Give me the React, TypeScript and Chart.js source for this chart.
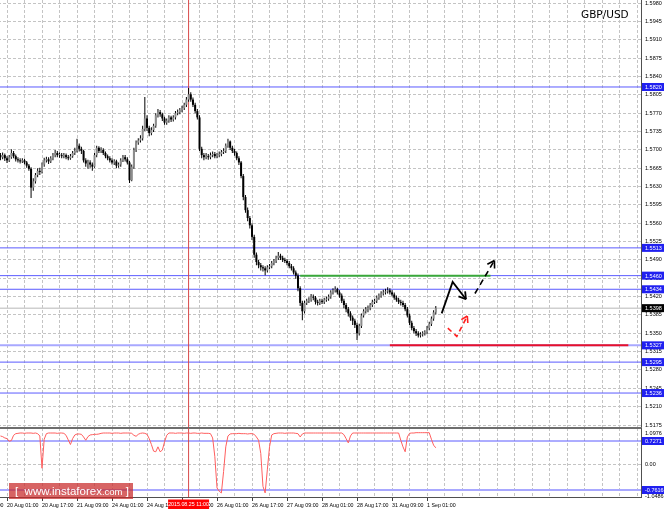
import React, { useEffect, useRef } from 'react';
import { Chart, registerables } from 'chart.js';

Chart.register(...registerables);

// ---------- DATA ----------
const firstOpen = 1.5690;
const closes = [
  1.5686, 1.5690, 1.5684, 1.5680, 1.5686, 1.5694, 1.5688, 1.5682, 1.5680, 1.5678,
  1.5680, 1.5676, 1.5670, 1.5664, 1.5628, 1.5640, 1.5652, 1.5660, 1.5658, 1.5672,
  1.5680, 1.5682, 1.5678, 1.5684, 1.5690, 1.5694, 1.5690, 1.5690, 1.5688, 1.5690,
  1.5686, 1.5684, 1.5688, 1.5694, 1.5698, 1.5708, 1.5702, 1.5698, 1.5680, 1.5674,
  1.5676, 1.5672, 1.5668, 1.5690, 1.5704, 1.5698, 1.5700, 1.5694, 1.5688, 1.5684,
  1.5680, 1.5676, 1.5678, 1.5670, 1.5672, 1.5680, 1.5686, 1.5682, 1.5676, 1.5642,
  1.5668, 1.5700, 1.5714, 1.5718, 1.5722, 1.5740, 1.5760, 1.5742, 1.5732, 1.5738,
  1.5746, 1.5766, 1.5772, 1.5768, 1.5760, 1.5752, 1.5756, 1.5762, 1.5758, 1.5762,
  1.5770, 1.5772, 1.5776, 1.5780, 1.5786, 1.5796, 1.5806, 1.5796, 1.5786, 1.5774,
  1.5762, 1.5702, 1.5690, 1.5686, 1.5688, 1.5686, 1.5690, 1.5692, 1.5688, 1.5690,
  1.5692, 1.5696, 1.5698, 1.5708, 1.5716, 1.5704, 1.5698, 1.5694, 1.5684, 1.5676,
  1.5650, 1.5610, 1.5585, 1.5570, 1.5556, 1.5534, 1.5500, 1.5486, 1.5480, 1.5476,
  1.5474, 1.5470, 1.5476, 1.5478, 1.5484, 1.5488, 1.5494, 1.5498, 1.5494, 1.5490,
  1.5488, 1.5484, 1.5478, 1.5474, 1.5466, 1.5460, 1.5436, 1.5408, 1.5392, 1.5408,
  1.5412, 1.5414, 1.5420, 1.5418, 1.5410, 1.5408, 1.5412, 1.5410, 1.5414, 1.5416,
  1.5420, 1.5428, 1.5432, 1.5434, 1.5428, 1.5422, 1.5412, 1.5404, 1.5396, 1.5388,
  1.5380, 1.5374, 1.5366, 1.5350, 1.5364, 1.5384, 1.5392, 1.5396, 1.5398, 1.5404,
  1.5410, 1.5412, 1.5418, 1.5422, 1.5426, 1.5428, 1.5430, 1.5432, 1.5428, 1.5424,
  1.5418, 1.5414, 1.5410, 1.5408, 1.5404, 1.5396, 1.5384, 1.5370, 1.5360, 1.5354,
  1.5350, 1.5346, 1.5348, 1.5350, 1.5352, 1.5360, 1.5368, 1.5378, 1.5390, 1.5398,
];
const highs = [
  1.5694, 1.5695, 1.5693, 1.5688, 1.5690, 1.5701, 1.5698, 1.5691, 1.5686, 1.5684,
  1.5684, 1.5683, 1.5679, 1.5673, 1.5667, 1.5646, 1.5656, 1.5665, 1.5666, 1.5676,
  1.5685, 1.5687, 1.5686, 1.5688, 1.5694, 1.5700, 1.5698, 1.5695, 1.5694, 1.5694,
  1.5693, 1.5690, 1.5692, 1.5698, 1.5704, 1.5721, 1.5712, 1.5706, 1.5700, 1.5684,
  1.5681, 1.5680, 1.5676, 1.5694, 1.5708, 1.5707, 1.5705, 1.5703, 1.5697, 1.5691,
  1.5688, 1.5684, 1.5682, 1.5681, 1.5676, 1.5684, 1.5690, 1.5690, 1.5686, 1.5679,
  1.5672, 1.5704, 1.5718, 1.5722, 1.5728, 1.5746, 1.5801, 1.5766, 1.5746, 1.5743,
  1.5750, 1.5770, 1.5778, 1.5776, 1.5771, 1.5763, 1.5760, 1.5766, 1.5765, 1.5766,
  1.5774, 1.5777, 1.5780, 1.5784, 1.5790, 1.5801, 1.5818, 1.5810, 1.5800, 1.5790,
  1.5778, 1.5766, 1.5706, 1.5694, 1.5694, 1.5692, 1.5695, 1.5697, 1.5696, 1.5694,
  1.5697, 1.5700, 1.5703, 1.5712, 1.5721, 1.5718, 1.5708, 1.5702, 1.5697, 1.5688,
  1.5679, 1.5654, 1.5614, 1.5590, 1.5574, 1.5560, 1.5538, 1.5504, 1.5490, 1.5484,
  1.5480, 1.5478, 1.5480, 1.5482, 1.5488, 1.5492, 1.5498, 1.5505, 1.5502, 1.5498,
  1.5494, 1.5492, 1.5488, 1.5482, 1.5478, 1.5470, 1.5464, 1.5440, 1.5412, 1.5412,
  1.5416, 1.5419, 1.5425, 1.5424, 1.5421, 1.5414, 1.5416, 1.5416, 1.5418, 1.5420,
  1.5424, 1.5432, 1.5436, 1.5440, 1.5437, 1.5432, 1.5426, 1.5416, 1.5408, 1.5400,
  1.5392, 1.5384, 1.5378, 1.5370, 1.5368, 1.5388, 1.5396, 1.5400, 1.5403, 1.5408,
  1.5414, 1.5416, 1.5422, 1.5426, 1.5430, 1.5433, 1.5435, 1.5438, 1.5436, 1.5432,
  1.5428, 1.5422, 1.5418, 1.5414, 1.5412, 1.5408, 1.5400, 1.5388, 1.5374, 1.5364,
  1.5358, 1.5354, 1.5352, 1.5354, 1.5356, 1.5364, 1.5372, 1.5382, 1.5394, 1.5402,
];
const lows = [
  1.5680, 1.5682, 1.5679, 1.5675, 1.5677, 1.5683, 1.5684, 1.5678, 1.5676, 1.5674,
  1.5675, 1.5672, 1.5666, 1.5660, 1.5608, 1.5622, 1.5636, 1.5648, 1.5652, 1.5655,
  1.5668, 1.5676, 1.5673, 1.5675, 1.5680, 1.5686, 1.5686, 1.5685, 1.5684, 1.5684,
  1.5682, 1.5680, 1.5681, 1.5685, 1.5690, 1.5695, 1.5697, 1.5692, 1.5676, 1.5668,
  1.5664, 1.5666, 1.5660, 1.5666, 1.5686, 1.5694, 1.5694, 1.5690, 1.5684, 1.5680,
  1.5676, 1.5672, 1.5671, 1.5665, 1.5666, 1.5668, 1.5677, 1.5678, 1.5672, 1.5637,
  1.5640, 1.5664, 1.5696, 1.5710, 1.5714, 1.5718, 1.5736, 1.5736, 1.5726, 1.5728,
  1.5734, 1.5742, 1.5762, 1.5763, 1.5755, 1.5748, 1.5748, 1.5752, 1.5753, 1.5754,
  1.5758, 1.5766, 1.5768, 1.5772, 1.5776, 1.5782, 1.5792, 1.5792, 1.5782, 1.5770,
  1.5758, 1.5698, 1.5684, 1.5680, 1.5682, 1.5681, 1.5682, 1.5686, 1.5684, 1.5684,
  1.5686, 1.5688, 1.5692, 1.5694, 1.5704, 1.5700, 1.5694, 1.5689, 1.5680, 1.5671,
  1.5646, 1.5604, 1.5580, 1.5564, 1.5550, 1.5528, 1.5494, 1.5480, 1.5474, 1.5470,
  1.5468, 1.5461, 1.5466, 1.5472, 1.5474, 1.5480, 1.5484, 1.5490, 1.5490, 1.5486,
  1.5484, 1.5480, 1.5474, 1.5470, 1.5462, 1.5454, 1.5430, 1.5402, 1.5375, 1.5388,
  1.5404, 1.5408, 1.5410, 1.5413, 1.5405, 1.5403, 1.5404, 1.5406, 1.5406, 1.5410,
  1.5412, 1.5416, 1.5424, 1.5428, 1.5424, 1.5418, 1.5408, 1.5398, 1.5390, 1.5382,
  1.5374, 1.5366, 1.5360, 1.5337, 1.5346, 1.5360, 1.5380, 1.5388, 1.5390, 1.5394,
  1.5400, 1.5406, 1.5408, 1.5414, 1.5418, 1.5422, 1.5424, 1.5426, 1.5424, 1.5420,
  1.5414, 1.5410, 1.5406, 1.5403, 1.5400, 1.5392, 1.5380, 1.5366, 1.5356, 1.5350,
  1.5345, 1.5342, 1.5342, 1.5344, 1.5346, 1.5348, 1.5356, 1.5364, 1.5374, 1.5386,
];
const indicator = [
  0.88, 0.86, 0.82, 0.80, 0.72, 0.74, 0.90, 0.95, 0.96, 0.97,
  0.97, 0.96, 0.97, 0.97, 0.97, 0.96, 0.97, 0.95, 0.88, -0.10,
  0.78, 0.95, 0.97, 0.97, 0.97, 0.97, 0.96, 0.97, 0.97, 0.96,
  0.90, 0.76, 0.62, 0.80, 0.91, 0.94, 0.94, 0.93, 0.85, 0.75,
  0.86, 0.91, 0.92, 0.93, 0.93, 0.94, 0.96, 0.97, 0.97, 0.97,
  0.97, 0.96, 0.97, 0.97, 0.97, 0.96, 0.97, 0.97, 0.97, 0.97,
  0.96, 0.90, 0.87, 0.93, 0.96, 0.97, 0.96, 0.93, 0.80, 0.62,
  0.42, 0.40, 0.55, 0.40, 0.45, 0.70, 0.90, 0.97, 0.97, 0.97,
  0.96, 0.97, 0.97, 0.97, 0.96, 0.97, 0.97, 0.96, 0.97, 0.97,
  0.96, 0.96, 0.97, 0.96, 0.96, 0.96, 0.95, 0.82, 0.25, -0.70,
  -0.80, -0.85, -0.20, 0.55, 0.88, 0.94, 0.95, 0.95, 0.95, 0.96,
  0.95, 0.95, 0.95, 0.94, 0.95, 0.95, 0.93, 0.85, 0.75, 0.35,
  -0.65, -0.85, -0.15, 0.55, 0.91, 0.95, 0.96, 0.97, 0.97, 0.97,
  0.96, 0.97, 0.97, 0.97, 0.97, 0.96, 0.95, 0.85, 0.94, 0.97,
  0.97, 0.97, 0.97, 0.97, 0.97, 0.97, 0.97, 0.97, 0.97, 0.97,
  0.97, 0.97, 0.97, 0.97, 0.97, 0.97, 0.97, 0.92, 0.80, 0.67,
  0.88, 0.97, 0.97, 0.97, 0.97, 0.97, 0.97, 0.97, 0.97, 0.97,
  0.97, 0.97, 0.97, 0.97, 0.97, 0.97, 0.97, 0.97, 0.97, 0.97,
  0.97, 0.97, 0.97, 0.75, 0.55, 0.40, 0.85, 0.96, 0.97, 0.97,
  0.98, 0.98, 0.98, 0.98, 0.98, 0.98, 0.98, 0.78, 0.60, 0.52,
];

const dateLabels = [
  '19 Aug 09:00', '20 Aug 01:00', '20 Aug 17:00', '21 Aug 09:00', '24 Aug 01:00',
  '24 Aug 17:00', '25 Aug 09:00', '26 Aug 01:00', '26 Aug 17:00', '27 Aug 09:00',
  '28 Aug 01:00', '28 Aug 17:00', '31 Aug 09:00', '1 Sep 01:00',
];
const dateLabelBars = [-13, 3, 19, 35, 51, 67, 83, 99, 115, 131, 147, 163, 179, 195];

const priceTicks = [
  1.5980, 1.5945, 1.5910, 1.5875, 1.5840, 1.5805, 1.5770, 1.5735, 1.5700, 1.5665,
  1.5630, 1.5595, 1.5560, 1.5525, 1.5490, 1.5455, 1.5420, 1.5385, 1.5350, 1.5315,
  1.5280, 1.5245, 1.5210, 1.5175,
];
const blueLevels = [1.5820, 1.5513, 1.5460, 1.5434, 1.5295, 1.5236];
const paleLevels = [1.5327];
const bidPrice = 1.5398;
const greenLevel = 1.5460;
const greenBars = [137, 224];
const redLevel = 1.5327;
const redBars = [178, 287];
const markerBar = 86;
const markerText = '2015.08.25 11:00';

const indBlueLevel = 0.7271;
const indPaleLevel = -0.7616;
const indTickText = ['1.0976', '0.00', '-1.0486'];
const indTickAt = [0.97, 0, -0.944];

const arrowSolid = [[201.7, 1.5388], [206.7, 1.5448], [212.8, 1.5415]];
const arrowDashed = [[216.9, 1.5426], [225.8, 1.5489]];
const arrowRed = [[204.5, 1.5360], [208.6, 1.5344], [213.4, 1.5383]];

// ---------- LAYOUT / STYLE ----------
const X_MIN = -14.83;
const X_MAX = 292.8;
const P_MIN = 1.51712;
const P_MAX = 1.5986;
const I_MIN = -0.974;
const I_MAX = 1.122;
const SHIFT = 32;
const CW = 696;
const AXIS_W = 23;
const MAIN_H = 427;
const IND_TOP = 427;
const IND_H = 84;
const XAXIS_H = 14;

const FAMILY = '"Liberation Sans", Arial, sans-serif';
const AXFONT = { family: FAMILY, size: 5.5 };
const XFONT = { family: FAMILY, size: 5.3 };
const GRID = '#c4c4c4';
const AXIS_LINE = '#505050';
const BLUE = '#5a5aff';
const PALE = '#a8a8ff';
const BOX_BLUE = '#2020f0';
const MARKER = '#d84a4a';
const BULL = '#8c8c8c';
const BEAR = '#000000';

Chart.defaults.font.family = FAMILY;

const gridBars: number[] = [];
for (let b = dateLabelBars[0]; b <= X_MAX; b += 8) gridBars.push(b);

const opens = closes.map((c, i) => (i === 0 ? firstOpen : closes[i - 1]));

const labelFor = (v: number) => {
  const k = dateLabelBars.indexOf(v);
  return k >= 0 ? dateLabels[k] : '';
};

const hLine = (level: number, from: number, to: number, color: string, width: number, order: number) => ({
  type: 'line',
  data: [{ x: from, y: level }, { x: to, y: level }],
  borderColor: color,
  borderWidth: width,
  pointRadius: 0,
  fill: false,
  order,
  xAxisID: 'x',
  yAxisID: 'y',
});

const vLine = (bar: number, lo: number, hi: number, order: number) => ({
  type: 'line',
  data: [{ x: bar, y: lo }, { x: bar, y: hi }],
  borderColor: MARKER,
  borderWidth: 1,
  pointRadius: 0,
  fill: false,
  order,
  xAxisID: 'x',
  yAxisID: 'y',
});

// ---------- PLUGINS ----------
const axisBoxes = {
  id: 'axisBoxes',
  afterDraw(chart: any, _a: any, opts: any) {
    const { ctx, chartArea, scales } = chart;
    ctx.save();
    for (const b of opts.items || []) {
      const py = scales.y.getPixelForValue(b.value);
      ctx.fillStyle = b.bg;
      ctx.fillRect(chartArea.right + 1, py - 4, chart.width - chartArea.right, 8);
      ctx.fillStyle = '#ffffff';
      ctx.font = `5.5px ${FAMILY}`;
      ctx.textAlign = 'left';
      ctx.textBaseline = 'middle';
      ctx.fillText(b.text, chartArea.right + 4, py + 0.5);
    }
    ctx.restore();
  },
};

const arrows = {
  id: 'arrows',
  afterDatasetsDraw(chart: any, _a: any, opts: any) {
    const { ctx, scales, chartArea } = chart;
    ctx.save();
    ctx.beginPath();
    ctx.rect(chartArea.left, chartArea.top, chartArea.right - chartArea.left, chartArea.bottom - chartArea.top);
    ctx.clip();
    for (const a of opts.items || []) {
      const pts = a.points.map((p: number[]) => [scales.x.getPixelForValue(p[0]), scales.y.getPixelForValue(p[1])]);
      ctx.strokeStyle = a.color;
      ctx.lineWidth = a.width;
      ctx.lineJoin = 'miter';
      ctx.setLineDash(a.dash);
      ctx.beginPath();
      pts.forEach((p: number[], k: number) => (k ? ctx.lineTo(p[0], p[1]) : ctx.moveTo(p[0], p[1])));
      ctx.stroke();
      const [x1, y1] = pts[pts.length - 2];
      const [x2, y2] = pts[pts.length - 1];
      const ang = Math.atan2(y2 - y1, x2 - x1);
      ctx.setLineDash([]);
      ctx.beginPath();
      for (const s of [-1, 1]) {
        const t = ang + Math.PI + s * 0.55;
        ctx.moveTo(x2, y2);
        ctx.lineTo(x2 + a.head * Math.cos(t), y2 + a.head * Math.sin(t));
      }
      ctx.stroke();
    }
    ctx.restore();
  },
};

const markerBox = {
  id: 'markerBox',
  afterDraw(chart: any, _a: any, opts: any) {
    const { ctx, chartArea, scales } = chart;
    const px = scales.x.getPixelForValue(opts.bar);
    ctx.save();
    ctx.fillStyle = '#ff0000';
    ctx.fillRect(px - 20.5, chartArea.bottom + 2.5, 41, 9.5);
    ctx.fillStyle = '#ffffff';
    ctx.font = `5.3px ${FAMILY}`;
    ctx.textAlign = 'center';
    ctx.textBaseline = 'middle';
    ctx.fillText(opts.text, px, chartArea.bottom + 7.5);
    ctx.restore();
  },
};

const xScaleBase = {
  type: 'linear',
  min: X_MIN,
  max: X_MAX,
  offset: false,
  afterBuildTicks: (s: any) => {
    s.ticks = gridBars.map((v) => ({ value: v }));
  },
};

function mainConfig(): any {
  return {
    type: 'bar',
    data: {
      datasets: [
        hLine(bidPrice, X_MIN, X_MAX, '#cfcfcf', 1.5, 20),
        ...blueLevels.map((l) => hLine(l, X_MIN, X_MAX, BLUE, 1, 15)),
        ...paleLevels.map((l) => hLine(l, X_MIN, X_MAX, PALE, 2, 15)),
        vLine(markerBar, P_MIN, P_MAX, 12),
        hLine(greenLevel, greenBars[0], greenBars[1], '#3aa83a', 2, 8),
        hLine(redLevel, redBars[0], redBars[1], '#e8102a', 2, 8),
        {
          type: 'bar',
          data: closes.map((c, i) => ({ x: i, y: [lows[i], highs[i]] })),
          backgroundColor: '#000000',
          barThickness: 1,
          inflateAmount: 0,
          grouped: false,
          order: 3,
          xAxisID: 'x',
          yAxisID: 'y',
        },
        {
          type: 'bar',
          data: closes.map((c, i) => ({ x: i, y: [opens[i], c] })),
          backgroundColor: closes.map((c, i) => (c >= opens[i] ? BULL : BEAR)),
          barThickness: 2,
          inflateAmount: 0,
          minBarLength: 1,
          grouped: false,
          order: 2,
          xAxisID: 'x',
          yAxisID: 'y',
        },
      ],
    },
    options: {
      animation: false,
      responsive: false,
      events: [],
      layout: { padding: 0 },
      plugins: {
        legend: { display: false },
        tooltip: { enabled: false },
        axisBoxes: {
          items: [
            ...[1.5820, 1.5513, 1.5460, 1.5434, 1.5327, 1.5295, 1.5236].map((v) => ({ value: v, text: v.toFixed(4), bg: BOX_BLUE })),
            { value: bidPrice, text: bidPrice.toFixed(4), bg: '#000000' },
          ],
        },
        arrows: {
          items: [
            { points: arrowSolid, color: '#000000', width: 1.8, dash: [], head: 8 },
            { points: arrowDashed, color: '#000000', width: 1.6, dash: [6, 4], head: 8 },
            { points: arrowRed, color: '#ff2020', width: 1.6, dash: [5, 4], head: 7 },
          ],
        },
      },
      scales: {
        x: {
          ...xScaleBase,
          position: 'bottom',
          afterFit: (s: any) => {
            s.height = 0;
            s.paddingLeft = 0;
            s.paddingRight = 0;
          },
          ticks: { display: false },
          grid: { color: GRID, drawTicks: false, offset: false, lineWidth: 1 },
          border: { display: false, dash: [3, 2] },
        },
        y: {
          type: 'linear',
          position: 'right',
          min: P_MIN,
          max: P_MAX,
          beginAtZero: false,
          afterBuildTicks: (s: any) => {
            s.ticks = priceTicks.map((v) => ({ value: v }));
          },
          afterFit: (s: any) => {
            s.width = AXIS_W;
            s.paddingTop = 0;
            s.paddingBottom = 0;
          },
          ticks: {
            font: AXFONT,
            color: '#000000',
            padding: 4,
            autoSkip: false,
            callback: (v: any) => Number(v).toFixed(4),
          },
          grid: { color: GRID, drawTicks: false, lineWidth: 1 },
          border: { display: true, color: AXIS_LINE, width: 1, dash: [3, 2] },
        },
      },
    },
    plugins: [axisBoxes, arrows],
  };
}

function indConfig(): any {
  return {
    type: 'line',
    data: {
      datasets: [
        hLine(indBlueLevel, X_MIN, X_MAX, BLUE, 1, 15),
        hLine(indPaleLevel, X_MIN, X_MAX, PALE, 2, 15),
        vLine(markerBar, I_MIN, I_MAX, 12),
        {
          type: 'line',
          data: indicator.map((v, i) => ({ x: i, y: v })),
          borderColor: '#ff5e5e',
          borderWidth: 1,
          pointRadius: 0,
          fill: false,
          tension: 0,
          order: 1,
          xAxisID: 'x',
          yAxisID: 'y',
        },
      ],
    },
    options: {
      animation: false,
      responsive: false,
      events: [],
      layout: { padding: { top: 1, left: 0, right: 0, bottom: 0 } },
      plugins: {
        legend: { display: false },
        tooltip: { enabled: false },
        axisBoxes: {
          items: [
            { value: indBlueLevel, text: indBlueLevel.toFixed(4), bg: BOX_BLUE },
            { value: indPaleLevel, text: indPaleLevel.toFixed(4), bg: BOX_BLUE },
          ],
        },
        markerBox: { bar: markerBar, text: markerText },
      },
      scales: {
        x: {
          ...xScaleBase,
          position: 'bottom',
          afterFit: (s: any) => {
            s.height = XAXIS_H;
            s.paddingLeft = 0;
            s.paddingRight = 0;
          },
          ticks: {
            display: true,
            autoSkip: false,
            maxRotation: 0,
            minRotation: 0,
            align: 'start',
            padding: 1,
            font: XFONT,
            color: '#000000',
            callback: (v: any) => labelFor(Number(v)),
          },
          grid: {
            color: GRID,
            offset: false,
            drawTicks: true,
            tickLength: 4,
            tickColor: (c: any) => (c.tick && dateLabelBars.includes(c.tick.value) ? '#404040' : 'rgba(0,0,0,0)'),
          },
          border: { display: true, color: AXIS_LINE, width: 1, dash: [3, 2] },
        },
        xTop: {
          type: 'linear',
          position: 'top',
          min: X_MIN,
          max: X_MAX,
          afterBuildTicks: (s: any) => {
            s.ticks = [{ value: X_MIN }];
          },
          afterFit: (s: any) => {
            s.height = 0;
            s.paddingLeft = 0;
            s.paddingRight = 0;
          },
          ticks: { display: false },
          grid: { display: false, drawTicks: false },
          border: { display: true, color: '#6e6e6e', width: 2 },
        },
        y: {
          type: 'linear',
          position: 'right',
          min: I_MIN,
          max: I_MAX,
          beginAtZero: false,
          afterBuildTicks: (s: any) => {
            s.ticks = indTickAt.map((v) => ({ value: v }));
          },
          afterFit: (s: any) => {
            s.width = AXIS_W;
            s.paddingTop = 0;
            s.paddingBottom = 0;
          },
          ticks: {
            font: AXFONT,
            color: '#000000',
            padding: 4,
            autoSkip: false,
            callback: (_v: any, i: number) => indTickText[i],
          },
          grid: {
            color: (c: any) => (c.tick && c.tick.value === 0 ? GRID : 'rgba(0,0,0,0)'),
            drawTicks: false,
          },
          border: { display: true, color: AXIS_LINE, width: 1, dash: [3, 2] },
        },
      },
    },
    plugins: [axisBoxes, markerBox],
  };
}

export default function App() {
  const mainRef = useRef<HTMLCanvasElement>(null);
  const indRef = useRef<HTMLCanvasElement>(null);

  useEffect(() => {
    const main = new Chart(mainRef.current as HTMLCanvasElement, mainConfig());
    const ind = new Chart(indRef.current as HTMLCanvasElement, indConfig());
    return () => {
      main.destroy();
      ind.destroy();
    };
  }, []);

  return (
    <div
      style={{
        position: 'fixed',
        left: 0,
        top: 0,
        width: 664,
        height: 511,
        overflow: 'hidden',
        background: '#ffffff',
      }}
    >
      <canvas
        ref={mainRef}
        width={CW}
        height={MAIN_H}
        style={{ position: 'absolute', left: -SHIFT, top: 0, width: CW, height: MAIN_H }}
      />
      <canvas
        ref={indRef}
        width={CW}
        height={IND_H}
        style={{ position: 'absolute', left: -SHIFT, top: IND_TOP, width: CW, height: IND_H }}
      />
      <div
        style={{
          position: 'absolute',
          left: 581,
          top: 9,
          fontFamily: '"DejaVu Sans", sans-serif',
          fontSize: 10.5,
          lineHeight: 1,
          color: '#000000',
          whiteSpace: 'nowrap',
        }}
      >
        GBP/USD
      </div>
      <div
        style={{
          position: 'absolute',
          left: 9,
          top: 483,
          width: 124,
          height: 16,
          background: 'rgba(200,40,40,0.72)',
          color: '#ffffff',
          fontFamily: FAMILY,
          fontSize: 11.5,
          lineHeight: '16px',
          whiteSpace: 'nowrap',
          boxSizing: 'border-box',
          paddingLeft: 6,
        }}
      >
        [&nbsp; www.instaforex<span style={{ fontSize: 9.5 }}>.com</span> ]
      </div>
    </div>
  );
}
